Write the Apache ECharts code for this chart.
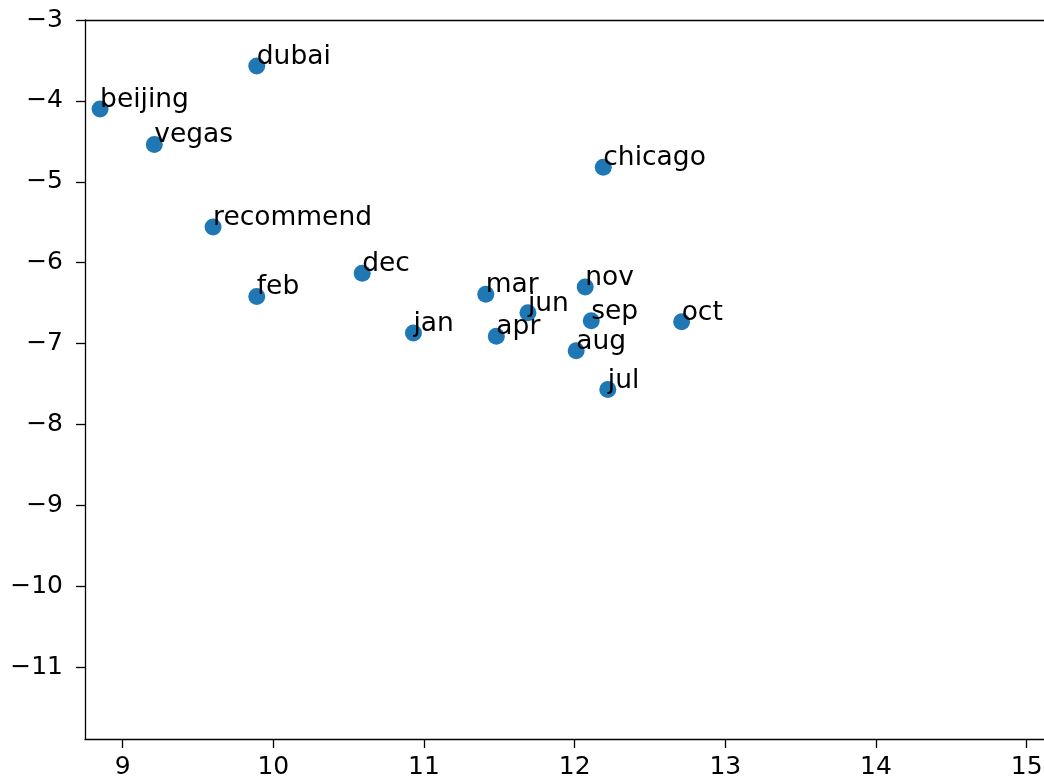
<!DOCTYPE html>
<html>
<head>
<meta charset="utf-8">
<script src="https://cdn.jsdelivr.net/npm/echarts@6/dist/echarts.min.js"></script>
<style>
  html, body { margin: 0; padding: 0; background: #fff; overflow: hidden; }
  #chart { width: 1044px; height: 782px; }
</style>
</head>
<body>
<div id="chart"></div>
<script>
// Word embedding projection: each word placed at its 2-D coordinates
const words = ['beijing', 'vegas', 'dubai', 'recommend', 'chicago', 'jan', 'feb', 'mar', 'apr',
               'jun', 'jul', 'aug', 'sep', 'oct', 'nov', 'dec'];
const xs = [8.85, 9.21, 9.89, 9.60, 12.19, 10.93, 9.89, 11.41, 11.48,
            11.69, 12.22, 12.01, 12.11, 12.71, 12.07, 10.59];
const ys = [-4.10, -4.54, -3.57, -5.56, -4.82, -6.87, -6.42, -6.39, -6.91,
            -6.62, -7.57, -7.09, -6.72, -6.73, -6.30, -6.13];
const xTicks = [9, 10, 11, 12, 13, 14, 15];
const yTicks = [-11, -10, -9, -8, -7, -6, -5, -4, -3];

const FONT = 'DejaVu Sans';
const X_MIN = 8.75, X_MAX = 15.5, Y_MIN = -11.89, Y_MAX = -3;
const fmt = v => String(v).replace('-', '\u2212');

const chart = echarts.init(document.getElementById('chart'), null, { renderer: 'canvas' });

const spine = { show: true, onZero: false, lineStyle: { color: '#000', width: 1.3 } };
const tick = { show: true, inside: false, length: 9, lineStyle: { color: '#000', width: 1.3 } };

chart.setOption({
  animation: false,
  backgroundColor: '#fff',
  // the plot area continues past the right edge of the page
  grid: { left: 85, top: 20, right: -58, bottom: 43, containLabel: false, outerBoundsMode: 'none', show: false },
  xAxis: [{
    type: 'value', position: 'bottom', min: X_MIN, max: X_MAX,
    splitLine: { show: false }, axisLine: spine,
    axisTick: Object.assign({ customValues: xTicks }, tick),
    axisLabel: { customValues: xTicks, formatter: fmt, color: '#000', fontFamily: FONT, fontSize: 25, margin: 16 }
  }, {
    // top spine only
    type: 'value', position: 'top', min: X_MIN, max: X_MAX,
    splitLine: { show: false }, axisLine: spine,
    axisTick: { show: false }, axisLabel: { show: false }
  }],
  yAxis: {
    type: 'value', min: Y_MIN, max: Y_MAX,
    splitLine: { show: false }, axisLine: spine,
    axisTick: Object.assign({ customValues: yTicks }, tick),
    axisLabel: { customValues: yTicks, formatter: fmt, color: '#000', fontFamily: FONT, fontSize: 25, margin: 22 }
  },
  series: [{
    type: 'scatter',
    data: words.map((w, i) => ({ name: w, value: [xs[i], ys[i]] })),
    symbolSize: 17,
    itemStyle: { color: '#1f77b4', opacity: 1 },
    label: {
      show: true,
      formatter: p => p.name,
      position: [8.5, 12.5],
      align: 'left',
      verticalAlign: 'bottom',
      color: '#000',
      fontFamily: FONT,
      fontSize: 26.5,
      lineHeight: 26
    },
    labelLayout: { hideOverlap: false },
    z: 3
  }]
});
</script>
</body>
</html>
